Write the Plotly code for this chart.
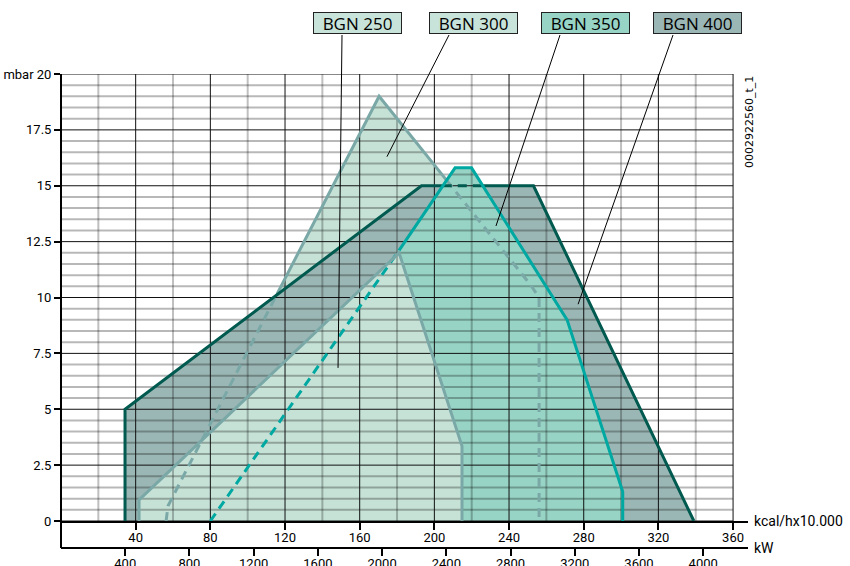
import plotly.graph_objects as go

# ---------------- data (x: kcal/h x10.000, y: mbar) ----------------
burners = ["BGN 250", "BGN 300", "BGN 350", "BGN 400"]

# working-field outlines
bgn250_x = [41.8, 41.8, 181.1, 214.8, 214.8]
bgn250_y = [0.0, 0.94, 12.0, 3.35, 0.0]

bgn300_x = [56.3, 57.3, 170.4, 251.2, 256.1, 256.1]
bgn300_y = [0.0, 0.67, 19.0, 10.6, 10.0, 0.0]

bgn350_x = [80.0, 211.1, 219.9, 271.1, 300.9, 300.9]
bgn350_y = [0.0, 15.8, 15.8, 9.0, 1.31, 0.0]

bgn400_x = [34.3, 34.3, 193.1, 253.1, 339.0]
bgn400_y = [0.0, 5.0, 15.0, 15.0, 0.0]

# visible (solid) and hidden (dashed) parts of the outlines
bgn300_dash1_x = [56.3, 57.3, 115.7]
bgn300_dash1_y = [0.0, 0.67, 10.15]
bgn300_solid_x = [115.7, 170.4, 206.5]
bgn300_solid_y = [10.15, 19.0, 15.25]
bgn300_dash2_x = [206.5, 251.2, 256.1, 256.1]
bgn300_dash2_y = [15.25, 10.6, 10.0, 0.0]

bgn350_dash_x = [80.0, 181.0]
bgn350_dash_y = [0.0, 12.1]
bgn350_solid_x = [181.0, 211.1, 219.9, 271.1, 300.9, 300.9]
bgn350_solid_y = [12.1, 15.8, 15.8, 9.0, 1.31, 0.0]

bgn400_solid1_x = [34.3, 34.3, 193.1, 204.5]
bgn400_solid1_y = [0.0, 5.0, 15.0, 15.0]
bgn400_dash_x = [204.5, 225.9]
bgn400_dash_y = [15.0, 15.0]
bgn400_solid2_x = [225.9, 253.1, 339.0]
bgn400_solid2_y = [15.0, 15.0, 0.0]

# label pointer targets (kcal, mbar)
pointer_x = [148.4, 174.6, 233.0, 277.0]
pointer_y = [6.85, 16.3, 13.2, 9.7]

# axes
kcal_ticks = [40, 80, 120, 160, 200, 240, 280, 320, 360]
kw_ticks = [400, 800, 1200, 1600, 2000, 2400, 2800, 3200, 3600, 4000]
y_ticks = [0, 2.5, 5, 7.5, 10, 12.5, 15, 17.5, 20]
y_ticktext = ["0", "2.5", "5", "7.5", "10", "12.5", "15", "17.5", "mbar 20"]

# ---------------- styles ----------------
fill_col = {"BGN 250": "#c6e2d7", "BGN 300": "#c6e2d7",
            "BGN 350": "#98d4c5", "BGN 400": "#9bb7b5"}
box_col = {"BGN 250": "#c8e3d9", "BGN 300": "#c8e3d9",
           "BGN 350": "#98d4c5", "BGN 400": "#9bb7b5"}
GREY = "#7aa8a7"
TEAL = "#00a8a2"
DARK = "#005a4f"
LW = 3
DASH = "9px,6px"

XMAX = 368.0
YMAX = 20.0
KW_MAX = XMAX * 10000 / 860
PLOT_H = 474.0
YD0 = 27.0 / PLOT_H

TICKFONT = dict(family="Liberation Sans Narrow, Roboto, sans-serif", size=13, color="black")

fig = go.Figure()

def fill(x, y, col):
    fig.add_trace(go.Scatter(x=x, y=y, fill="toself", fillcolor=col, mode="lines",
                             line=dict(width=0, color=col), hoverinfo="skip", showlegend=False))

# fills, back to front
fill(bgn300_x, bgn300_y, fill_col["BGN 300"])
fill(bgn400_x, bgn400_y, fill_col["BGN 400"])
fill(bgn350_x, bgn350_y, fill_col["BGN 350"])
fill(bgn250_x, bgn250_y, fill_col["BGN 250"])

# grid (drawn over the fills)
def grid(vals, horizontal, color, width):
    xs, ys = [], []
    for v in vals:
        if horizontal:
            xs += [0, 360, None]; ys += [v, v, None]
        else:
            xs += [v, v, None]; ys += [0, 20, None]
    fig.add_trace(go.Scatter(x=xs, y=ys, mode="lines", line=dict(color=color, width=width),
                             hoverinfo="skip", showlegend=False))

h_all = [i * 0.5 for i in range(41)]
h_grey = [v for v in h_all if abs(v / 2.5 - round(v / 2.5)) > 1e-9]
h_black = [v for v in h_all if abs(v / 2.5 - round(v / 2.5)) < 1e-9]
v_all = list(range(20, 361, 20))
v_grey = [v for v in v_all if v % 40]
v_black = [v for v in v_all if v % 40 == 0]
grid(h_grey, True, "rgba(0,0,0,0.28)", 2)
grid(v_grey, False, "rgba(0,0,0,0.25)", 2)
grid(h_black, True, "#111111", 1)
grid(v_black, False, "#111111", 1)

def edge(x, y, col, dash=None):
    fig.add_trace(go.Scatter(x=x, y=y, mode="lines",
                             line=dict(color=col, width=LW, dash=dash),
                             hoverinfo="skip", showlegend=False))

edge(bgn300_dash1_x, bgn300_dash1_y, GREY, DASH)
edge(bgn300_solid_x, bgn300_solid_y, GREY)
edge(bgn300_dash2_x, bgn300_dash2_y, GREY, DASH)
edge(bgn400_solid1_x, bgn400_solid1_y, DARK)
edge(bgn400_dash_x, bgn400_dash_y, DARK, DASH)
edge(bgn400_solid2_x, bgn400_solid2_y, DARK)
edge(bgn350_dash_x, bgn350_dash_y, TEAL, DASH)
edge(bgn350_solid_x, bgn350_solid_y, TEAL)
edge(bgn250_x, bgn250_y, GREY)

# invisible trace for kW axis
fig.add_trace(go.Scatter(x=[0], y=[0], xaxis="x2", yaxis="y", mode="markers",
                         marker=dict(opacity=0), hoverinfo="skip", showlegend=False))

def px_x(p):  # pixel -> paper (horizontal)
    return (p - 61) / 687.0

def px_y(p):  # pixel -> paper (vertical)
    return (548 - p) / PLOT_H

def dx(k):
    return k / XMAX

def dy(m):
    return YD0 + m / YMAX * (1 - YD0)

annotations = []
shapes = []
box_centers = [357.5, 473.0, 585.5, 697.5]
leader_start = [342, 449, 560, 673]
for name, cx, ls, tx, ty in zip(burners, box_centers, leader_start, pointer_x, pointer_y):
    annotations.append(dict(x=px_x(cx), y=px_y(23), xref="paper", yref="paper",
                            text=name, showarrow=False, xanchor="center", yanchor="middle",
                            width=87, height=20, bgcolor=box_col[name], bordercolor="#222222",
                            borderwidth=1, borderpad=0,
                            font=dict(family="Open Sans, Noto Sans, sans-serif", size=17, color="black")))
    shapes.append(dict(type="line", xref="paper", yref="paper",
                       x0=px_x(ls), y0=px_y(35), x1=dx(tx), y1=dy(ty),
                       line=dict(color="black", width=1)))

# y-axis line extending down to the kW axis
shapes.append(dict(type="line", xref="paper", yref="paper", x0=0, x1=0, y0=0, y1=1,
                   line=dict(color="black", width=2)))

annotations.append(dict(x=px_x(752), y=YD0, xref="paper", yref="paper", text="kcal/hx10.000",
                        showarrow=False, xanchor="left", yanchor="middle",
                        font=dict(TICKFONT, size=14)))
annotations.append(dict(x=px_x(752), y=0, xref="paper", yref="paper", text="kW",
                        showarrow=False, xanchor="left", yanchor="middle",
                        font=dict(TICKFONT, size=14)))
annotations.append(dict(x=px_x(749), y=px_y(74), xref="paper", yref="paper", text="0002922560_t_1",
                        showarrow=False, textangle=-90, xanchor="center", yanchor="top",
                        font=dict(family="DejaVu Sans, sans-serif", size=11, color="black")))

fig.update_layout(
    width=850, height=566,
    margin=dict(l=61, r=102, t=74, b=18, pad=0, autoexpand=False),
    paper_bgcolor="white", plot_bgcolor="white",
    showlegend=False,
    xaxis=dict(range=[0, XMAX], domain=[0, 1], anchor="y", tickvals=kcal_ticks,
               ticks="outside", ticklen=7, tickwidth=2, tickcolor="black",
               showline=True, linecolor="black", linewidth=2, showgrid=False, zeroline=False,
               tickfont=TICKFONT, automargin=False, ticklabelstandoff=-4),
    xaxis2=dict(range=[0, KW_MAX], overlaying="x", anchor="free", position=0, side="bottom",
                tickvals=kw_ticks, ticks="outside", ticklen=7, tickwidth=2, tickcolor="black",
                showline=True, linecolor="black", linewidth=2, showgrid=False, zeroline=False,
                tickfont=TICKFONT, automargin=False, ticklabelstandoff=-4),
    yaxis=dict(range=[0, YMAX], domain=[YD0, 1], tickvals=y_ticks, ticktext=y_ticktext,
               ticks="outside", ticklen=6, tickwidth=2, tickcolor="black",
               showline=False, showgrid=False, zeroline=False, tickfont=TICKFONT,
               automargin=False),
    annotations=annotations,
    shapes=shapes,
)

fig.write_html("out.html", config={"displayModeBar": False},
               post_script="document.body.style.margin='0';document.body.style.overflow='hidden';")
